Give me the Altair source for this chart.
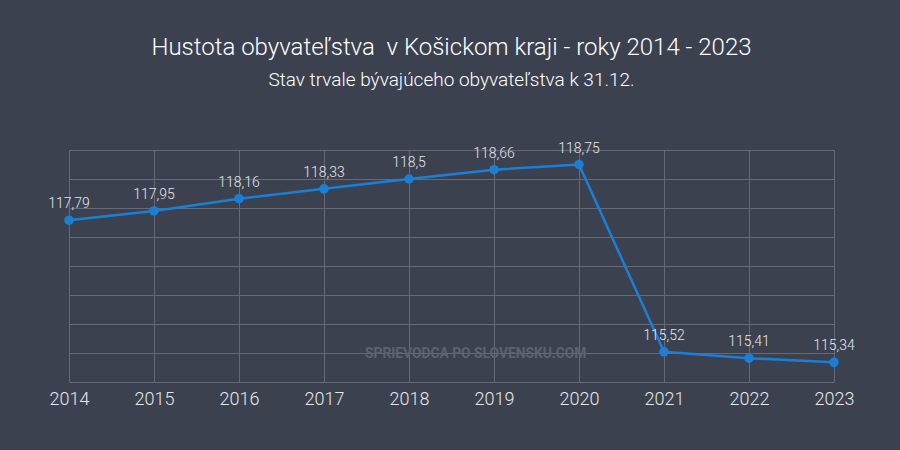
import altair as alt
import pandas as pd

years = [2014, 2015, 2016, 2017, 2018, 2019, 2020, 2021, 2022, 2023]
values = [117.79, 117.95, 118.16, 118.33, 118.5, 118.66, 118.75, 115.52, 115.41, 115.34]

title_text = "Hustota obyvateľstva\u00a0 v Košickom kraji - roky 2014 - 2023"
subtitle_text = "Stav trvale bývajúceho obyvateľstva k 31.12."
watermark = "SPRIEVODCA PO SLOVENSKU.COM"

df = pd.DataFrame({"year": years, "value": values})

BG = "#3c4150"
GRID = "#656a76"
LINE = "#1a80d6"
TXT = "#e6e6e6"
FONT = "Roboto Light, Roboto"

x = alt.X("year:O", scale=alt.Scale(type="point", padding=0),
          axis=alt.Axis(title=None, labelAngle=0, labelFontSize=18, labelColor=TXT,
                        labelFont=FONT, labelFontWeight=300, labelPadding=8,
                        ticks=False, domain=False, grid=True, gridColor=GRID, gridWidth=1))
y = alt.Y("value:Q", scale=alt.Scale(domain=[115, 119], nice=False, zero=False),
          axis=alt.Axis(title=None, labels=False, ticks=False, domain=False,
                        values=[115, 115.5, 116, 116.5, 117, 117.5, 118, 118.5, 119],
                        grid=True, gridColor=GRID, gridWidth=1))

base = alt.Chart(df)

line = base.mark_line(color=LINE, strokeWidth=2.5).encode(x=x, y=y)
pts = base.mark_circle(color=LINE, size=90, opacity=1).encode(x=x, y=y)
labels = base.transform_calculate(
    lab="replace(format(datum.value, '.2~f'), '.', ',')"
).mark_text(color=TXT, fontSize=14, font=FONT, fontWeight=300, baseline="bottom", dy=-9).encode(
    x=x, y=y, text="lab:N")

wm = alt.Chart(pd.DataFrame({"t": [watermark]})).mark_text(
    color="#5d6270", fontSize=13.8, font="Roboto", fontWeight="bold", align="left", baseline="middle"
).encode(x=alt.value(296), y=alt.value(204), text="t:N")

chart = alt.layer(wm, line, pts, labels).properties(
    width=765, height=232,
    background=BG,
    autosize=alt.AutoSizeParams(type="none"),
    padding={"left": 69, "top": 150, "right": 66, "bottom": 68},
    title=alt.TitleParams(
        text=title_text, subtitle=subtitle_text,
        color="#ffffff", subtitleColor="#ffffff",
        fontSize=24, subtitleFontSize=19,
        font=FONT, subtitleFont=FONT,
        fontWeight=300, subtitleFontWeight=300,
        anchor="middle", offset=52, subtitlePadding=11,
    ),
).configure_view(stroke=None)

chart.save("out.html", embed_options={"renderer": "svg", "actions": False})
